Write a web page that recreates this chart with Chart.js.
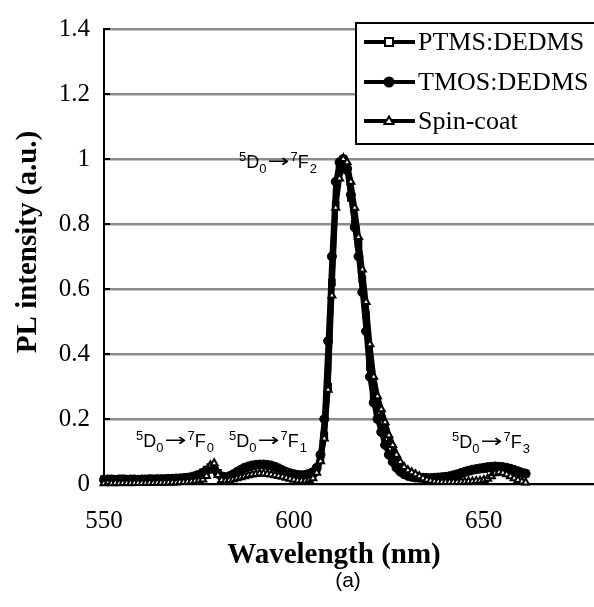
<!DOCTYPE html>
<html>
<head>
<meta charset="utf-8">
<script src="https://cdn.jsdelivr.net/npm/chart.js@4.4.1/dist/chart.umd.min.js"></script>
<style>
  body { margin: 0; background: #fff; }
  #wrap { width: 594px; height: 607px; }
</style>
</head>
<body>
<div id="wrap"><canvas id="plChart" width="594" height="607"></canvas></div>
<script>
// wavelengths (nm), one point per nm
var wavelengths = [
  550, 551, 552, 553, 554, 555, 556, 557, 558, 559,
  560, 561, 562, 563, 564, 565, 566, 567, 568, 569,
  570, 571, 572, 573, 574, 575, 576, 577, 578, 579,
  580, 581, 582, 583, 584, 585, 586, 587, 588, 589,
  590, 591, 592, 593, 594, 595, 596, 597, 598, 599,
  600, 601, 602, 603, 604, 605, 606, 607, 608, 609,
  610, 611, 612, 613, 614, 615, 616, 617, 618, 619,
  620, 621, 622, 623, 624, 625, 626, 627, 628, 629,
  630, 631, 632, 633, 634, 635, 636, 637, 638, 639,
  640, 641, 642, 643, 644, 645, 646, 647, 648, 649,
  650, 651, 652, 653, 654, 655, 656, 657, 658, 659,
  660, 661
];

var ptmsDedms = [
  0.015, 0.016, 0.016, 0.015, 0.016, 0.017, 0.016, 0.015, 0.016, 0.016,
  0.015, 0.016, 0.016, 0.017, 0.016, 0.016, 0.017, 0.017, 0.018, 0.018,
  0.019, 0.020, 0.021, 0.023, 0.026, 0.030, 0.036, 0.044, 0.052, 0.048,
  0.034, 0.024, 0.020, 0.022, 0.028, 0.035, 0.042, 0.048, 0.052, 0.055,
  0.057, 0.058, 0.058, 0.057, 0.055, 0.051, 0.046, 0.041, 0.036, 0.032,
  0.029, 0.028, 0.028, 0.029, 0.032, 0.037, 0.048, 0.075, 0.150, 0.300,
  0.620, 0.860, 0.970, 1.000, 0.965, 0.880, 0.800, 0.740, 0.630, 0.520,
  0.360, 0.270, 0.220, 0.190, 0.140, 0.110, 0.080, 0.060, 0.045, 0.036,
  0.030, 0.026, 0.024, 0.022, 0.021, 0.020, 0.020, 0.020, 0.021, 0.022,
  0.023, 0.024, 0.026, 0.028, 0.031, 0.035, 0.039, 0.042, 0.044, 0.045,
  0.046, 0.048, 0.050, 0.051, 0.051, 0.050, 0.048, 0.045, 0.042, 0.038,
  0.034, 0.032
];

var tmosDedms = [
  0.013, 0.014, 0.014, 0.013, 0.014, 0.014, 0.013, 0.014, 0.014, 0.013,
  0.014, 0.014, 0.015, 0.014, 0.015, 0.015, 0.015, 0.016, 0.016, 0.017,
  0.017, 0.018, 0.019, 0.021, 0.024, 0.028, 0.034, 0.041, 0.048, 0.045,
  0.032, 0.023, 0.021, 0.024, 0.030, 0.037, 0.044, 0.050, 0.054, 0.057,
  0.059, 0.060, 0.060, 0.059, 0.057, 0.053, 0.048, 0.042, 0.037, 0.033,
  0.030, 0.028, 0.027, 0.028, 0.031, 0.036, 0.050, 0.090, 0.200, 0.440,
  0.700, 0.930, 0.990, 1.000, 0.970, 0.890, 0.790, 0.700, 0.590, 0.470,
  0.330, 0.250, 0.200, 0.160, 0.120, 0.090, 0.068, 0.050, 0.038, 0.030,
  0.025, 0.022, 0.020, 0.019, 0.018, 0.018, 0.018, 0.019, 0.020, 0.021,
  0.022, 0.024, 0.027, 0.030, 0.034, 0.038, 0.041, 0.044, 0.046, 0.048,
  0.050, 0.052, 0.053, 0.054, 0.053, 0.052, 0.050, 0.047, 0.043, 0.039,
  0.035, 0.032
];

var spinCoat = [
  0.002, 0.003, 0.002, 0.003, 0.002, 0.003, 0.003, 0.002, 0.003, 0.003,
  0.003, 0.003, 0.004, 0.003, 0.004, 0.004, 0.004, 0.005, 0.005, 0.005,
  0.006, 0.006, 0.007, 0.008, 0.009, 0.011, 0.014, 0.025, 0.058, 0.064,
  0.028, 0.012, 0.010, 0.012, 0.015, 0.018, 0.021, 0.024, 0.027, 0.029,
  0.031, 0.032, 0.032, 0.031, 0.029, 0.027, 0.025, 0.022, 0.019, 0.016,
  0.013, 0.011, 0.010, 0.010, 0.012, 0.018, 0.035, 0.070, 0.140, 0.290,
  0.580, 0.850, 0.940, 1.000, 0.990, 0.930, 0.850, 0.760, 0.660, 0.560,
  0.430, 0.330, 0.270, 0.230, 0.190, 0.150, 0.120, 0.090, 0.068, 0.052,
  0.042, 0.036, 0.030, 0.024, 0.018, 0.013, 0.010, 0.008, 0.007, 0.006,
  0.006, 0.006, 0.006, 0.006, 0.007, 0.007, 0.008, 0.008, 0.009, 0.010,
  0.012, 0.016, 0.024, 0.033, 0.036, 0.035, 0.030, 0.024, 0.018, 0.012,
  0.008, 0.005
];

var seriesNames = ["PTMS:DEDMS", "TMOS:DEDMS", "Spin-coat"];
var xTickLabels = [550, 600, 650];
var yTickLabels = [0, 0.2, 0.4, 0.6, 0.8, 1, 1.2, 1.4];

// 5D0 -> 7Fn labels, placed in pixels
var transitions = [
  { sub: "0", x: 136, y: 447 },
  { sub: "1", x: 229, y: 447 },
  { sub: "2", x: 239, y: 168 },
  { sub: "3", x: 452, y: 448 }
];

function toPoints(vals) {
  return wavelengths.map(function (w, i) { return { x: w, y: vals[i] }; });
}

var serif = "'Liberation Serif', 'Times New Roman', serif";
var sans = "'Liberation Sans', Arial, sans-serif";

function drawTransition(ctx, t) {
  var x = t.x, y = t.y;
  ctx.fillStyle = "#000";
  ctx.textBaseline = "alphabetic";
  ctx.textAlign = "left";
  ctx.font = "13px " + sans;
  ctx.fillText("5", x, y - 7);
  x += ctx.measureText("5").width;
  ctx.font = "18px " + sans;
  ctx.fillText("D", x, y);
  x += ctx.measureText("D").width;
  ctx.font = "13px " + sans;
  ctx.fillText("0", x, y + 5);
  x += ctx.measureText("0").width + 1;
  // arrow glyph, stretched to the long arrow of the original
  ctx.font = "18px 'DejaVu Sans'";
  var aw = ctx.measureText("\u2192").width;
  ctx.save();
  ctx.translate(x, y - 1);
  ctx.scale(22 / aw, 1);
  ctx.fillText("\u2192", 0, 0);
  ctx.restore();
  x += 23;
  ctx.font = "13px " + sans;
  ctx.fillText("7", x, y - 7);
  x += ctx.measureText("7").width;
  ctx.font = "18px " + sans;
  ctx.fillText("F", x, y);
  x += ctx.measureText("F").width + 1;
  ctx.font = "13px " + sans;
  ctx.fillText(t.sub, x, y + 5);
}

function drawMarker(ctx, style, cx, cy) {
  ctx.lineWidth = 2;
  ctx.strokeStyle = "#000";
  ctx.beginPath();
  if (style === "rect") {
    ctx.rect(cx - 4, cy - 4, 8, 8);
    ctx.fillStyle = "#fff";
  } else if (style === "circle") {
    ctx.arc(cx, cy, 4.5, 0, Math.PI * 2);
    ctx.fillStyle = "#000";
  } else {
    ctx.moveTo(cx, cy - 4.5);
    ctx.lineTo(cx + 4.5, cy + 3);
    ctx.lineTo(cx - 4.5, cy + 3);
    ctx.closePath();
    ctx.fillStyle = "#fff";
  }
  ctx.fill();
  ctx.stroke();
}

var decor = {
  id: "decor",
  afterDraw: function (chart) {
    var ctx = chart.ctx;
    var yScale = chart.scales.y;
    var area = chart.chartArea;
    ctx.save();

    // small inward ticks on the y axis
    ctx.strokeStyle = "#000";
    ctx.lineWidth = 2;
    yTickLabels.forEach(function (v) {
      var py = yScale.getPixelForValue(v);
      ctx.beginPath();
      ctx.moveTo(area.left, py);
      ctx.lineTo(area.left + 6, py);
      ctx.stroke();
    });

    // legend box
    var bx = 356, by = 23, bw = 260, bh = 121;
    ctx.fillStyle = "#fff";
    ctx.fillRect(bx, by, bw, bh);
    ctx.strokeStyle = "#000";
    ctx.lineWidth = 2;
    ctx.strokeRect(bx, by, bw, bh);
    var styles = ["rect", "circle", "triangle"];
    var rows = [42, 82, 121];
    seriesNames.forEach(function (name, i) {
      var ry = rows[i];
      ctx.strokeStyle = "#000";
      ctx.lineWidth = 4;
      ctx.beginPath();
      ctx.moveTo(364, ry);
      ctx.lineTo(415, ry);
      ctx.stroke();
      drawMarker(ctx, styles[i], 389, ry);
      ctx.fillStyle = "#000";
      ctx.font = "26px " + serif;
      ctx.textBaseline = "middle";
      ctx.textAlign = "left";
      ctx.fillText(name, 418, ry + 1);
    });

    // transition labels
    transitions.forEach(function (t) { drawTransition(ctx, t); });

    // axis titles
    ctx.fillStyle = "#000";
    ctx.font = "bold 29px " + serif;
    ctx.textAlign = "center";
    ctx.textBaseline = "middle";
    ctx.fillText("Wavelength (nm)", 334, 556);
    ctx.save();
    ctx.translate(29, 242);
    ctx.rotate(-Math.PI / 2);
    ctx.fillText("PL intensity (a.u.)", 0, 0);
    ctx.restore();
    ctx.font = "21px " + sans;
    ctx.fillText("(a)", 348, 581);

    ctx.restore();
  }
};

new Chart("plChart", {
  type: "line",
  data: {
    datasets: [{
      label: seriesNames[0],
      data: toPoints(ptmsDedms),
      borderColor: "#000",
      borderWidth: 5,
      pointStyle: "rect",
      pointRadius: 4,
      pointBorderWidth: 2,
      pointBackgroundColor: "#fff",
      pointBorderColor: "#000",
      order: 3,
      clip: false
    }, {
      label: seriesNames[1],
      data: toPoints(tmosDedms),
      borderColor: "#000",
      borderWidth: 5,
      pointStyle: "circle",
      pointRadius: 4.5,
      pointBorderWidth: 1,
      pointBackgroundColor: "#000",
      pointBorderColor: "#000",
      order: 2,
      clip: false
    }, {
      label: seriesNames[2],
      data: toPoints(spinCoat),
      borderColor: "#000",
      borderWidth: 5,
      pointStyle: "triangle",
      pointRadius: 4,
      pointBorderWidth: 2,
      pointBackgroundColor: "#fff",
      pointBorderColor: "#000",
      order: 1,
      clip: false
    }]
  },
  options: {
    responsive: false,
    animation: false,
    devicePixelRatio: 1,
    layout: { autoPadding: false, padding: { top: 17, right: 0, bottom: 0, left: 0 } },
    plugins: {
      legend: { display: false },
      tooltip: { enabled: false }
    },
    elements: { line: { tension: 0 } },
    scales: {
      x: {
        type: "linear",
        min: 550,
        max: 679,
        afterFit: function (scale) { scale.height = 123; },
        ticks: {
          stepSize: 50,
          padding: 22,
          color: "#000",
          font: { family: serif, size: 25 },
          callback: function (v) { return xTickLabels.indexOf(v) >= 0 ? String(v) : null; }
        },
        grid: { display: false, drawTicks: false },
        border: { display: true, color: "#000", width: 2 }
      },
      y: {
        min: 0,
        max: 1.4,
        afterFit: function (scale) { scale.width = 104; },
        ticks: {
          stepSize: 0.2,
          padding: 14,
          color: "#000",
          font: { family: serif, size: 25 },
          callback: function (v) { return String(+v.toFixed(1)); }
        },
        grid: { color: "#8c8c8c", lineWidth: 2.5, drawTicks: false },
        border: { display: true, color: "#000", width: 2 }
      }
    }
  },
  plugins: [decor]
});
</script>
</body>
</html>
